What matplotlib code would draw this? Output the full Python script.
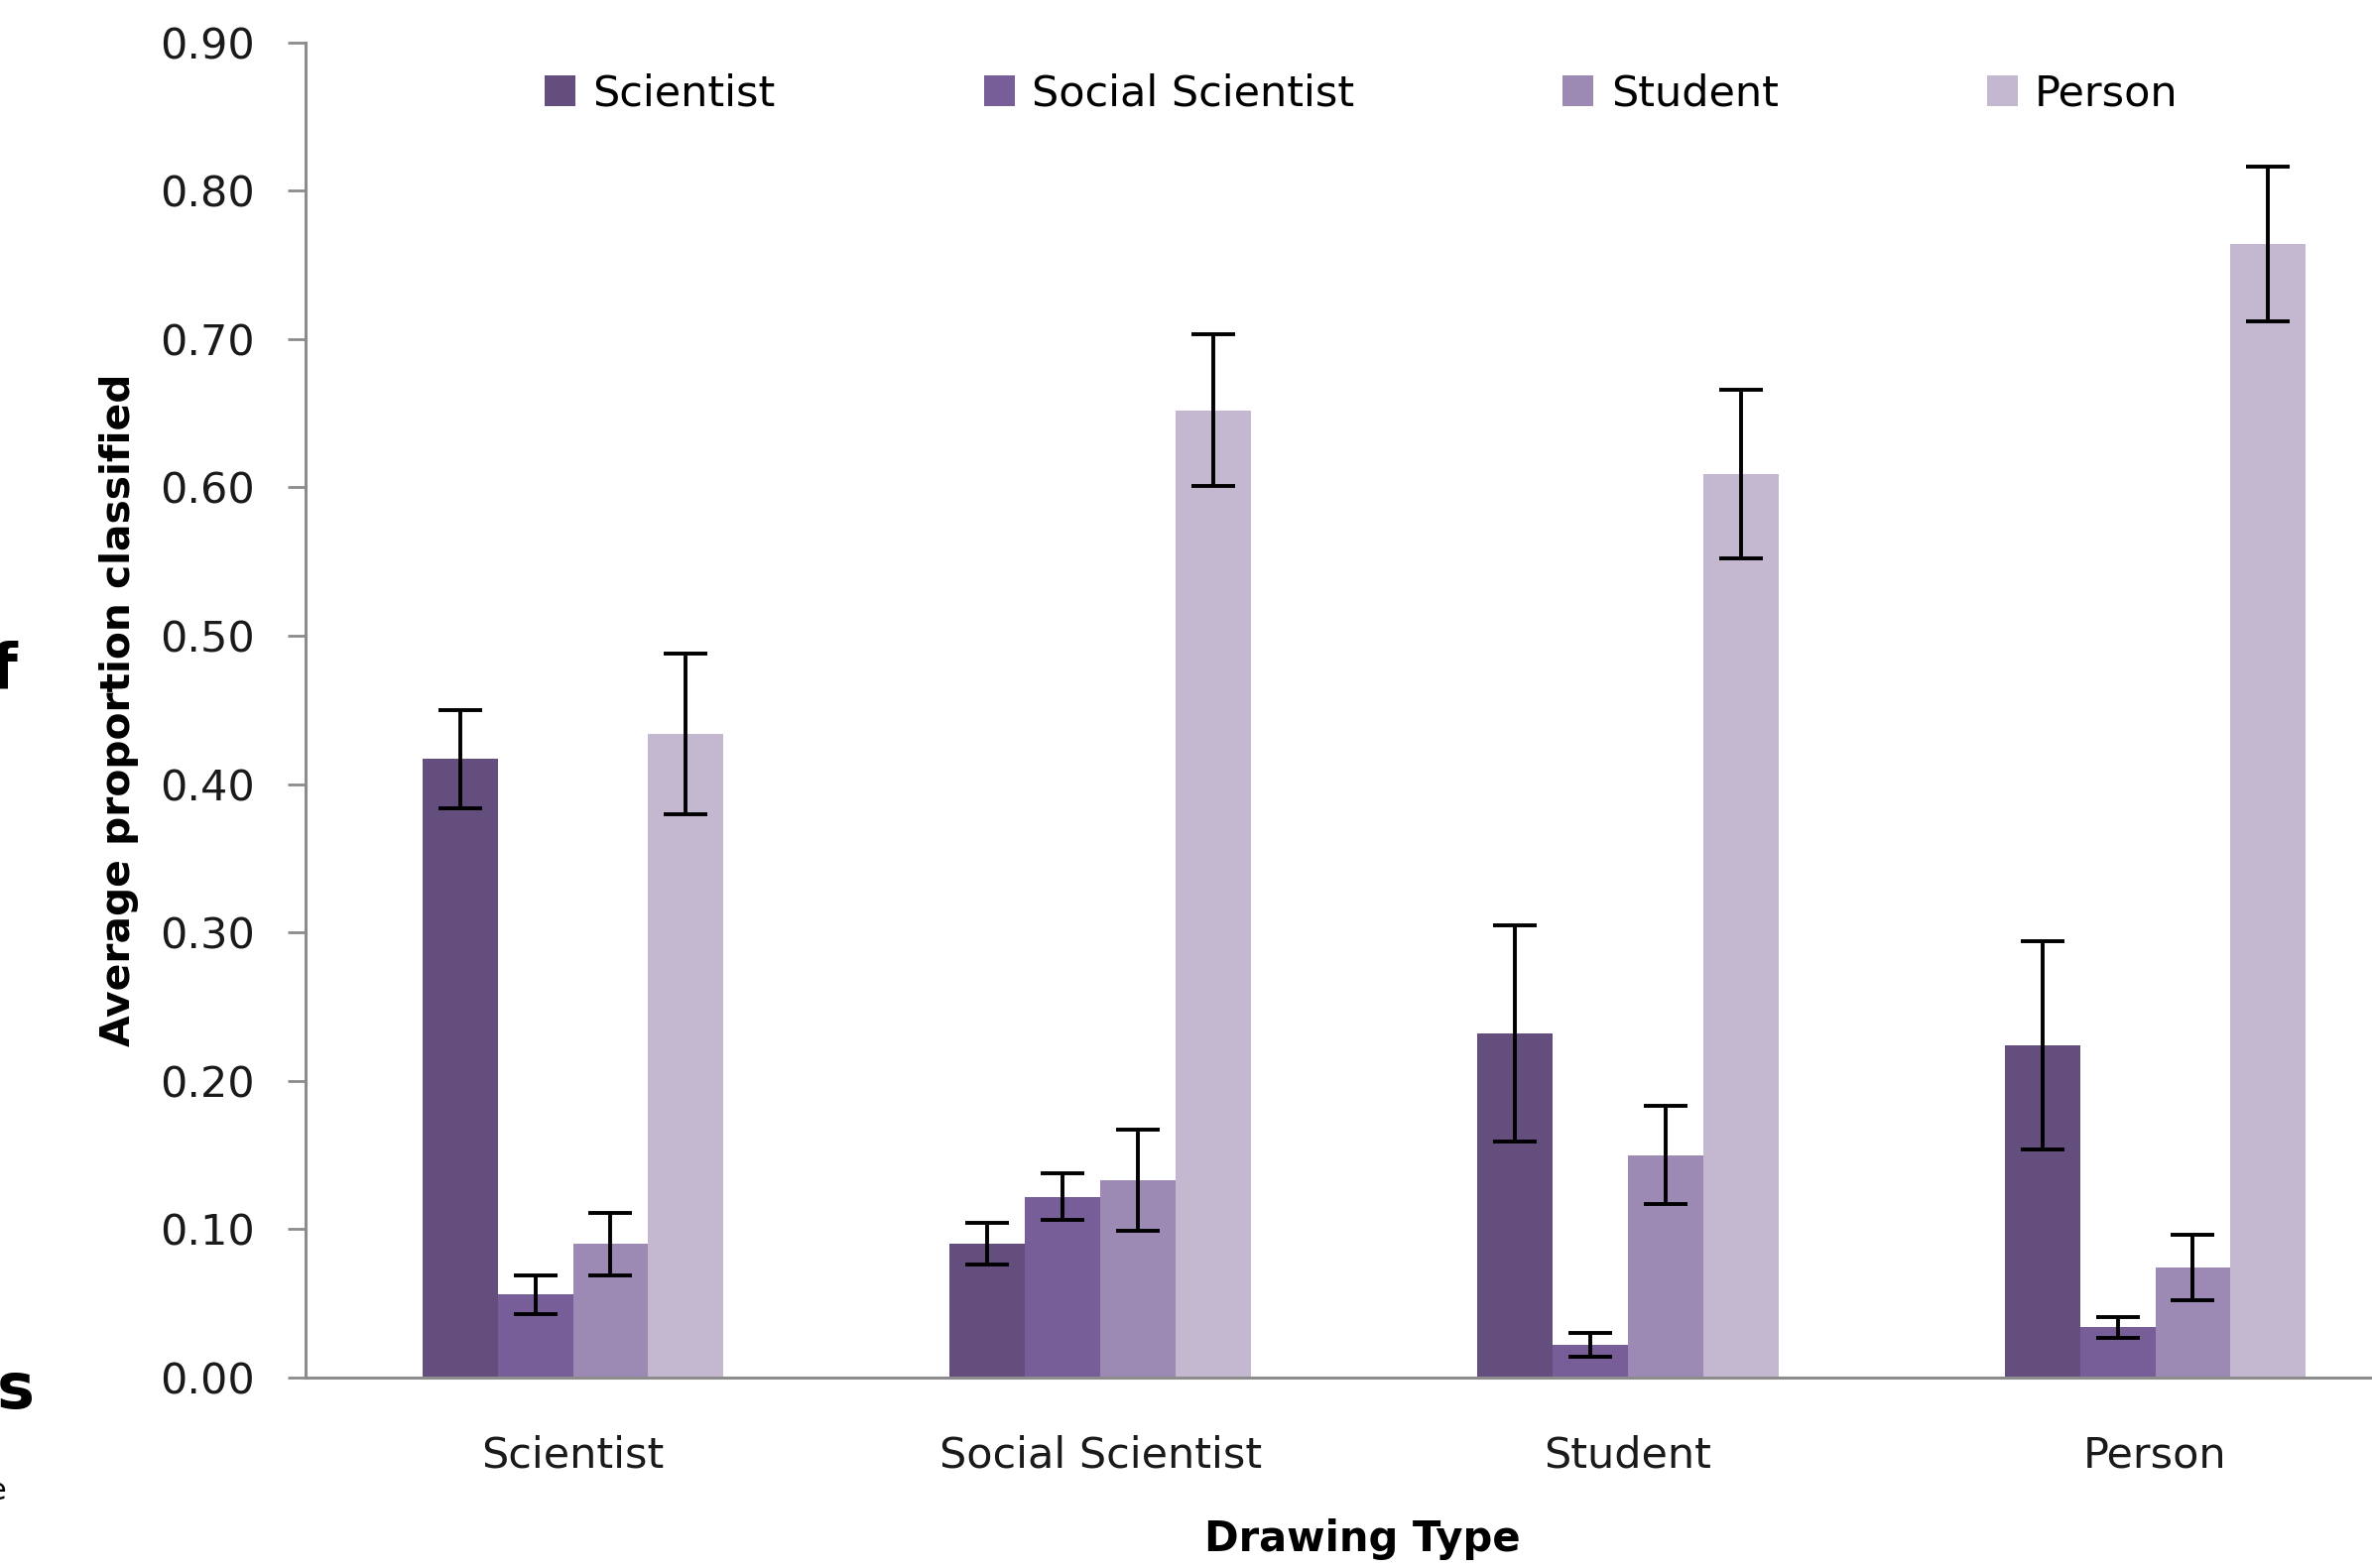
import numpy as np
import matplotlib
matplotlib.use("Agg")
from matplotlib import pyplot as plt

# drawing types on the x axis, classification series in the legend
drawing_types = ["Scientist", "Social Scientist", "Student", "Person"]
series = ["Scientist", "Social Scientist", "Student", "Person"]

scientist = [0.417, 0.090, 0.232, 0.224]
social_scientist = [0.056, 0.122, 0.022, 0.034]
student = [0.090, 0.133, 0.150, 0.074]
person = [0.434, 0.652, 0.609, 0.764]

scientist_err = [0.033, 0.014, 0.073, 0.070]
social_scientist_err = [0.013, 0.016, 0.008, 0.007]
student_err = [0.021, 0.034, 0.033, 0.022]
person_err = [0.054, 0.051, 0.057, 0.052]

colors = ["#644E7E", "#785E98", "#9C89B4", "#C3B8D0"]
y_ticks = [0.0, 0.1, 0.2, 0.3, 0.4, 0.5, 0.6, 0.7, 0.8, 0.9]

values = [scientist, social_scientist, student, person]
errors = [scientist_err, social_scientist_err, student_err, person_err]

fig = plt.figure(figsize=(23.91, 15.81), dpi=100)
ax = fig.add_axes([0.1288, 0.1214, 0.891, 0.8516])

x = np.arange(len(drawing_types))
width = 1 / 7
for i, name in enumerate(series):
    ax.bar(x + (i - 1.5) * width, values[i], width, color=colors[i], label=name,
           yerr=errors[i], capsize=16, linewidth=0,
           error_kw=dict(elinewidth=2.8, capthick=2.8, ecolor="black"))

ax.set_xlim(-0.507, 3.5)
ax.set_ylim(0, 0.9)
ax.set_yticks(y_ticks)
ax.set_yticklabels(["%.2f" % t for t in y_ticks])
ax.set_xticks(x)
ax.set_xticklabels(drawing_types)

for s in ["top", "right"]:
    ax.spines[s].set_visible(False)
for s in ["left", "bottom"]:
    ax.spines[s].set_color("#8C8C8C")
    ax.spines[s].set_linewidth(2.2)

ax.tick_params(axis="y", length=13, width=2, color="#8C8C8C", pad=24, labelsize=31,
               labelcolor="#1A1A1A")
ax.tick_params(axis="x", length=0, pad=41, labelsize=31, labelcolor="#1A1A1A")

ax.set_xlabel("Drawing Type", fontsize=30, fontweight="bold", labelpad=31)
ax.set_ylabel("Average proportion classified", fontsize=29.3, fontweight="bold")
ax.yaxis.set_label_coords(-0.0787, 0.5)

fig.legend(loc="center", bbox_to_anchor=(0.574, 0.940), ncol=4, frameon=False,
           fontsize=31, handlelength=0.72, handleheight=0.72, handletextpad=0.4,
           columnspacing=4.88)

# fragments of neighbouring page text cut off at the left edge
fig.text(0.0075, 0.572, "f", fontsize=46, fontweight="bold", ha="right", va="center")
fig.text(0.0145, 0.113, "s", fontsize=46, fontweight="bold", ha="right", va="center")
fig.text(0.0025, 0.049, "e", fontsize=22, ha="right", va="center")

fig.savefig("out.png", dpi=100)
